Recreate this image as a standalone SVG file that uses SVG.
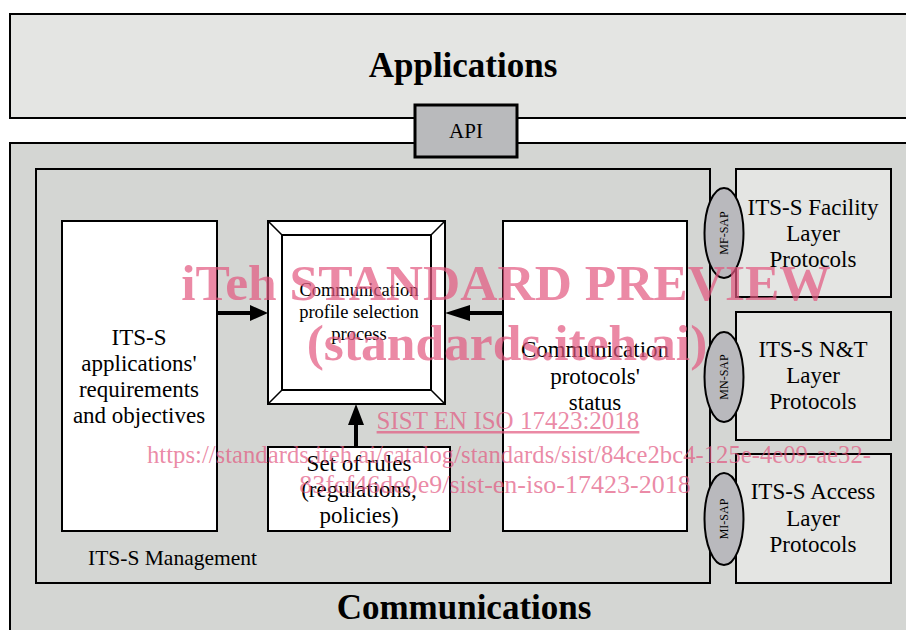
<svg xmlns="http://www.w3.org/2000/svg" width="906" height="630" viewBox="0 0 906 630" font-family="'Liberation Serif', serif">
<style>
text{font-family:'Liberation Serif',serif}
.t{fill:#000;text-anchor:middle}
.big{font-size:35px;font-weight:bold}
.box{font-size:23px}
.sm{font-size:18.5px}
.sap{font-size:12px}
.wm{fill:#e2577f;fill-opacity:0.7;text-anchor:middle}
.b{stroke:#000;stroke-width:2}
</style>
<rect width="906" height="630" fill="#fff"/>
<g id="applications">
<rect class="b" x="10" y="14" width="900" height="104" fill="#e4e5e3"/>
<text class="t big" x="463" y="77">Applications</text>
</g>
<g id="communications">
<rect class="b" x="10" y="143" width="900" height="492" fill="#d4d6d3"/>
<text class="t big" x="464" y="619">Communications</text>
</g>
<g id="api">
<rect x="415" y="105" width="102" height="52" fill="#b9babc" stroke="#000" stroke-width="3"/>
<text class="t" style="font-size:21px" x="466" y="138">API</text>
</g>
<g id="management">
<rect class="b" x="36" y="169" width="674" height="414" fill="#d4d6d3"/>
<text class="t" style="font-size:21.5px;text-anchor:start" x="88" y="565">ITS-S Management</text>
</g>
<g id="its-apps">
<rect class="b" x="62" y="221" width="155" height="310" fill="#fff"/>
<text class="t box" x="139" y="345">ITS-S</text>
<text class="t box" x="139" y="371">applications'</text>
<text class="t box" x="139" y="397">requirements</text>
<text class="t box" x="139" y="423">and objectives</text>
</g>
<g id="profile-selection">
<rect class="b" x="268" y="221" width="177" height="183" fill="#fff"/>
<rect class="b" x="282" y="235" width="149" height="155" fill="#fff"/>
<path d="M268 221L282 235M445 221L431 235M268 404L282 390M445 404L431 390" stroke="#000" stroke-width="1.5"/>
<text class="t sm" x="359" y="296">Communication</text>
<text class="t sm" x="359" y="318">profile selection</text>
<text class="t sm" x="359" y="340">process</text>
</g>
<g id="protocol-status">
<rect class="b" x="503" y="221" width="184" height="310" fill="#fff"/>
<text class="t box" x="595" y="357">Communication</text>
<text class="t box" x="595" y="384">protocols'</text>
<text class="t box" x="595" y="410">status</text>
</g>
<g id="rules">
<rect class="b" x="268" y="447" width="182" height="84" fill="#fff"/>
<text class="t box" x="359" y="471">Set of rules</text>
<text class="t box" x="359" y="497">(regulations,</text>
<text class="t box" x="359" y="523">policies)</text>
</g>
<g id="facility">
<rect class="b" x="736" y="169" width="155" height="128" fill="#e4e5e3"/>
<text class="t box" x="813" y="215">ITS-S Facility</text>
<text class="t box" x="813" y="241">Layer</text>
<text class="t box" x="813" y="267">Protocols</text>
</g>
<g id="nt">
<rect class="b" x="736" y="312" width="155" height="128" fill="#e4e5e3"/>
<text class="t box" x="813" y="357">ITS-S N&amp;T</text>
<text class="t box" x="813" y="383">Layer</text>
<text class="t box" x="813" y="409">Protocols</text>
</g>
<g id="access">
<rect class="b" x="736" y="454" width="155" height="129" fill="#e4e5e3"/>
<text class="t box" x="813" y="499">ITS-S Access</text>
<text class="t box" x="813" y="526">Layer</text>
<text class="t box" x="813" y="552">Protocols</text>
</g>
<g id="mf-sap">
<ellipse class="b" cx="724" cy="233" rx="19.5" ry="45" fill="#b9b9bd"/>
<text class="t sap" transform="translate(728 233) rotate(-90)">MF-SAP</text>
</g>
<g id="mn-sap">
<ellipse class="b" cx="724" cy="377" rx="19.5" ry="45" fill="#b9b9bd"/>
<text class="t sap" transform="translate(728 377) rotate(-90)">MN-SAP</text>
</g>
<g id="mi-sap">
<ellipse class="b" cx="724" cy="519" rx="19.5" ry="46" fill="#b9b9bd"/>
<text class="t sap" transform="translate(728 519) rotate(-90)">MI-SAP</text>
</g>
<g id="connectors" fill="#000" stroke="none">
<polygon points="217,311 250,311 250,305 268,313 250,321 250,315 217,315"/>
<polygon points="503,311 470,311 470,305 445,313 470,321 470,315 503,315"/>
<polygon points="354,447 354,425 348,425 356,404 364,425 358,425 358,447"/>
</g>
<g id="watermark">
<text class="wm" style="font-size:51.5px;font-weight:bold" x="506" y="300">iTeh STANDARD PREVIEW</text>
<text class="wm" style="font-size:51.5px;font-weight:bold" x="507" y="360">(standards.iteh.ai)</text>
<text class="wm" style="font-size:25px;text-decoration:underline" x="508" y="429">SIST EN ISO 17423:2018</text>
<text class="wm" style="font-size:24.7px" x="509" y="463">https://standards.iteh.ai/catalog/standards/sist/84ce2bc4-125e-4e09-ae32-</text>
<text class="wm" style="font-size:26px" x="495" y="493">83fcf46de0e9/sist-en-iso-17423-2018</text>
</g>
</svg>
